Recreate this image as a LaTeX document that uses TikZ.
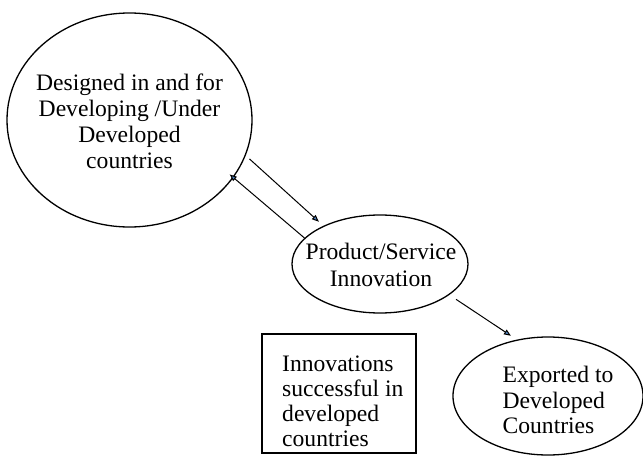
\documentclass[tikz,border=0pt]{standalone}
\usepackage{fontspec}
\setmainfont{Liberation Serif}
\usetikzlibrary{shapes.geometric,arrows.meta}
\definecolor{tipblue}{RGB}{79,129,189}
\begin{document}
\begin{tikzpicture}[x=1pt,y=-1pt,
    bubble/.style={draw,ellipse,line width=1.3pt,inner sep=0pt},
    words/.style={inner sep=0pt,font=\fontsize{23.6}{#1}\selectfont},
    flow/.style={line width=1pt,-{Triangle[length=7pt,width=5.5pt,fill=tipblue]}}]
                \useasboundingbox (0,0) rectangle (643,458);
                %% ellipses
                \node[bubble,minimum width=245pt,minimum height=214pt] (dev) at (129.5,120) {};
                \node[words=26,align=center] (devtxt) at (129.5,121)
                    {Designed in and for\\Developing /Under\\Developed\\countries};
                \node[bubble,minimum width=176pt,minimum height=98pt] (prod) at (380,264) {};
                \node[words=27,align=center] (prodtxt) at (381,265)
                    {Product/Service\\Innovation};
                \node[bubble,minimum width=190pt,minimum height=118pt] (export) at (548,396) {};
                \node[words=25.5,align=left] (exporttxt) at (558,400)
                    {Exported to\\Developed\\Countries};
                %% box
                \node[draw,line width=1.3pt,minimum width=154pt,minimum height=119pt] (box) at (339,393.5) {};
                \node[words=25,align=left,anchor=west] (boxtxt) at (282,401)
                    {Innovations\\successful in\\developed\\countries};
                %% arrows
                \draw[flow,shorten <=5pt,shorten >=6pt] (dev.-17) -- (prod.146);
                \draw[flow,shorten >=-5pt] (prod.161) -- (dev.-29);
                \draw[flow,shorten <=8pt,shorten >=7pt] (prod.-24) -- (export.119);
            \end{tikzpicture}
\end{document}
